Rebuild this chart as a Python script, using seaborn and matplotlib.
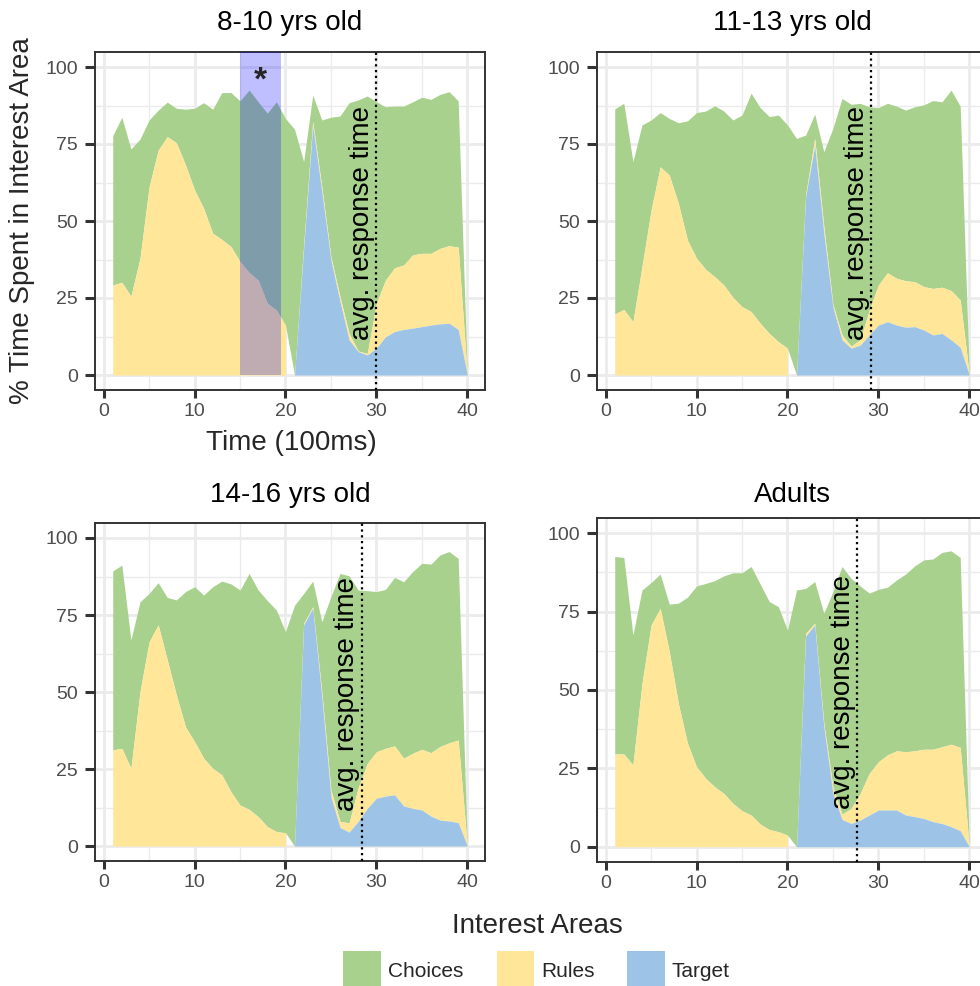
import numpy as np
import matplotlib
matplotlib.use("Agg")
import matplotlib.pyplot as plt
from matplotlib.patches import Rectangle
from matplotlib.ticker import MultipleLocator
import seaborn as sns

# ---------------- data ----------------
time_steps = list(range(1, 41))
panel_titles = ["8-10 yrs old", "11-13 yrs old", "14-16 yrs old", "Adults"]
area_names = ["Choices", "Rules", "Target"]
area_colors = ["#A9D18E", "#FFE699", "#9DC3E6"]
response_times = [30.0, 29.2, 28.4, 27.7]
highlight_span = [15.0, 19.5]
phase_break = 20

choices_8_10 = [48.5, 53.6, 47.8, 38.7, 21.7, 13.0, 11.2, 11.2, 18.1, 26.5,
                34.3, 40.3, 47.7, 50.0, 52.2, 59.2, 57.9, 61.7, 67.6, 67.1,
                79.8, 27.3, 8.6, 21.8, 45.3, 58.7, 74.9, 81.5, 83.6, 65.4,
                56.3, 52.5, 51.6, 49.7, 50.7, 50.0, 50.0, 50.0, 47.5, 0.3]
rules_8_10 = [29.2, 30.1, 25.6, 37.9, 61.1, 73.0, 77.4, 75.4, 68.2, 60.1,
              54.1, 46.0, 44.0, 41.7, 36.8, 33.3, 30.8, 23.3, 21.1, 16.2,
              0.0, 1.0, 1.3, 1.5, 1.1, 1.6, 2.1, 0.2, 0.5, 14.6,
              18.4, 20.7, 20.9, 23.8, 23.8, 23.3, 24.5, 25.2, 26.7, 0.2]
target_8_10 = [0] * 20 + [0.0, 41.0, 81.0, 59.5, 37.3, 23.8, 11.4, 7.6, 6.5, 8.7,
                          12.4, 14.1, 14.8, 15.2, 15.7, 16.2, 16.6, 16.8, 14.8, 0.0]

choices_11_13 = [66.6, 66.9, 52.0, 46.0, 29.2, 17.6, 18.4, 26.2, 38.7, 47.3,
                 51.4, 55.5, 56.5, 57.6, 62.2, 70.9, 70.0, 70.4, 73.6, 72.5,
                 76.8, 19.4, 7.9, 24.3, 57.1, 76.8, 78.5, 76.8, 66.0, 57.6,
                 55.0, 55.9, 55.4, 56.8, 59.0, 61.0, 60.2, 65.1, 62.9, 0.3]
rules_11_13 = [19.8, 21.3, 17.3, 35.2, 53.6, 67.6, 64.9, 55.7, 43.8, 37.9,
               34.3, 31.9, 29.2, 25.2, 22.2, 20.6, 16.8, 13.5, 10.8, 8.7,
               0.0, 0.6, 2.4, 2.2, 1.0, 1.6, 0.7, 1.7, 8.1, 13.0,
               15.9, 15.2, 15.1, 14.6, 14.1, 15.1, 15.0, 16.0, 15.4, 0.2]
target_11_13 = [0] * 20 + [0.0, 57.9, 74.4, 46.0, 22.0, 11.4, 8.7, 9.7, 13.0, 16.2,
                           17.3, 16.2, 15.5, 15.7, 14.6, 13.0, 13.5, 11.4, 9.0, 0.0]

choices_14_16 = [58.1, 59.5, 41.7, 29.2, 15.7, 13.7, 20.3, 30.9, 43.9, 50.3,
                 53.0, 59.0, 62.9, 67.5, 69.8, 76.6, 73.6, 73.4, 71.9, 65.3,
                 78.2, 9.7, 8.3, 22.8, 62.8, 80.5, 80.2, 64.1, 56.1, 52.0,
                 51.6, 54.7, 57.3, 59.0, 60.4, 61.2, 62.2, 62.1, 59.0, 0.1]
rules_14_16 = [31.2, 31.7, 25.2, 50.1, 66.3, 71.8, 60.4, 49.0, 38.7, 33.9,
               28.5, 25.2, 23.1, 17.6, 13.3, 11.9, 9.5, 6.3, 4.7, 4.3,
               0.0, 0.5, 0.5, 1.5, 2.2, 2.0, 3.0, 11.0, 14.6, 15.1,
               15.5, 15.9, 15.5, 17.9, 19.7, 20.6, 23.9, 25.4, 26.8, 0.2]
target_14_16 = [0] * 20 + [0.0, 71.8, 77.2, 48.5, 16.0, 6.0, 4.5, 8.0, 12.2, 15.5,
                           16.2, 16.6, 13.0, 12.2, 11.7, 9.7, 8.4, 8.1, 7.6, 0.0]

choices_adults = [63.0, 62.7, 41.5, 29.8, 13.6, 10.9, 15.2, 32.0, 46.6, 57.7,
                  62.2, 65.8, 69.4, 73.6, 75.9, 79.3, 76.6, 72.7, 71.8, 65.4,
                  81.9, 14.3, 13.3, 35.1, 62.3, 79.0, 73.4, 66.2, 57.5, 55.0,
                  53.5, 54.5, 56.7, 59.0, 60.4, 60.7, 62.0, 61.7, 60.6, 0.3]
rules_adults = [29.6, 29.6, 26.1, 52.1, 70.7, 76.1, 62.2, 45.7, 33.0, 25.5,
                21.8, 19.1, 17.0, 13.8, 11.5, 10.1, 7.2, 5.5, 4.8, 3.7,
                0.0, 0.9, 0.6, 1.1, 2.1, 1.7, 4.8, 8.5, 13.3, 15.4,
                17.6, 18.9, 20.2, 21.0, 22.1, 23.1, 24.5, 26.3, 26.6, 0.2]
target_adults = [0] * 20 + [0.0, 67.2, 70.7, 38.3, 17.0, 8.7, 7.4, 8.5, 10.1, 11.7,
                            11.7, 11.7, 10.1, 9.6, 9.0, 8.0, 7.4, 6.4, 5.1, 0.0]

panel_data = [
    (choices_8_10, rules_8_10, target_8_10),
    (choices_11_13, rules_11_13, target_11_13),
    (choices_14_16, rules_14_16, target_14_16),
    (choices_adults, rules_adults, target_adults),
]

# ---------------- style ----------------
sns.set_theme(style="white")
plt.rcParams["font.family"] = ["Liberation Sans", "DejaVu Sans"]
palette = sns.color_palette(area_colors)
green, yellow, blue = palette

W, H = 980, 986
fig = plt.figure(figsize=(W / 100, H / 100), dpi=100)


def fx(px):
    return px / W


def fy(py):
    return 1 - py / H


# panel boxes in pixels: left, top, width, height
boxes = [
    (95, 51.6, 390, 338.8),
    (597, 51.6, 390, 338.8),
    (95, 522.6, 390, 338.8),
    (597, 517.6, 390, 344.8),
]
title_baselines = [29.5, 29.5, 501.7, 501.7]

x = np.array(time_steps, dtype=float)
seg1 = x <= phase_break
seg2 = x > phase_break

for i, (box, (ch, ru, ta)) in enumerate(zip(boxes, panel_data)):
    l, t, w, h = box
    ax = fig.add_axes([fx(l), fy(t + h), w / W, h / H])
    ch = np.array(ch, float)
    ru = np.array(ru, float)
    ta = np.array(ta, float)
    lower = ta + ru
    upper = lower + ch

    ax.fill_between(x, lower, upper, color=green, lw=0, zorder=1)
    for seg in (seg1, seg2):
        ax.fill_between(x[seg], ta[seg], lower[seg], color=yellow, lw=0, zorder=1.1)
    ax.fill_between(x[seg2], 0, ta[seg2], color=blue, lw=0, zorder=1.2)

    ax.set_xlim(-0.95, 41.95)
    ax.set_ylim(-5, 105)
    ax.xaxis.set_major_locator(MultipleLocator(10))
    ax.xaxis.set_minor_locator(MultipleLocator(5))
    ax.yaxis.set_major_locator(MultipleLocator(25))
    ax.yaxis.set_minor_locator(MultipleLocator(12.5))
    ax.set_axisbelow(True)
    ax.grid(which="major", color="#EBEBEB", lw=2.0)
    ax.grid(which="minor", color="#EBEBEB", lw=1.0)
    for sp in ax.spines.values():
        sp.set_color("#333333")
        sp.set_linewidth(1.4)
        sp.set_visible(True)
    ax.tick_params(which="minor", length=0)
    ax.tick_params(axis="x", which="major", length=5.5, width=2.2, color="#333333",
                   labelsize=14, labelcolor="#4D4D4D", pad=3.5, bottom=True)
    ax.tick_params(axis="y", which="major", length=7.5, width=2.2, color="#333333",
                   labelsize=14, labelcolor="#4D4D4D", pad=5, left=True)

    rt = response_times[i]
    ax.axvline(rt, color="black", ls=(0, (1, 1.6)), lw=1.6, zorder=4)
    ax.text(rt - 1.6, 49.5, "avg. response time", rotation=90, ha="center",
            va="center", fontsize=20, color="black", zorder=5)

    if i == 0:
        ax.fill_between(highlight_span, 0, 105, color="blue", alpha=0.25, lw=0, zorder=3)
        ax.text(np.mean(highlight_span), 95.5, "*", fontsize=24, fontweight="bold",
                ha="center", va="center", zorder=5)

    fig.text(fx(l + w / 2), fy(title_baselines[i]), panel_titles[i], ha="center",
             va="baseline", fontsize=20, color="black")

# axis labels (first panel only)
fig.text(fx(291), fy(450), "Time (100ms)", ha="center", va="baseline", fontsize=20)
fig.text(fx(22), fy(221), "% Time Spent in Interest Area", rotation=90,
         ha="center", va="center", fontsize=20)

# legend
fig.text(fx(537), fy(933), "Interest Areas", ha="center", va="baseline", fontsize=20)
key_lefts = [343.3, 496.7, 627.3]
label_lefts = [388.3, 541, 671.7]
for name, col, kl, ll in zip(area_names, palette, key_lefts, label_lefts):
    fig.add_artist(Rectangle((fx(kl), fy(986.5)), 37.4 / W, 35.8 / H, color=col,
                             transform=fig.transFigure, lw=0))
    fig.text(fx(ll), fy(976.7), name, ha="left", va="baseline", fontsize=15)

fig.savefig("out.png", dpi=100)
